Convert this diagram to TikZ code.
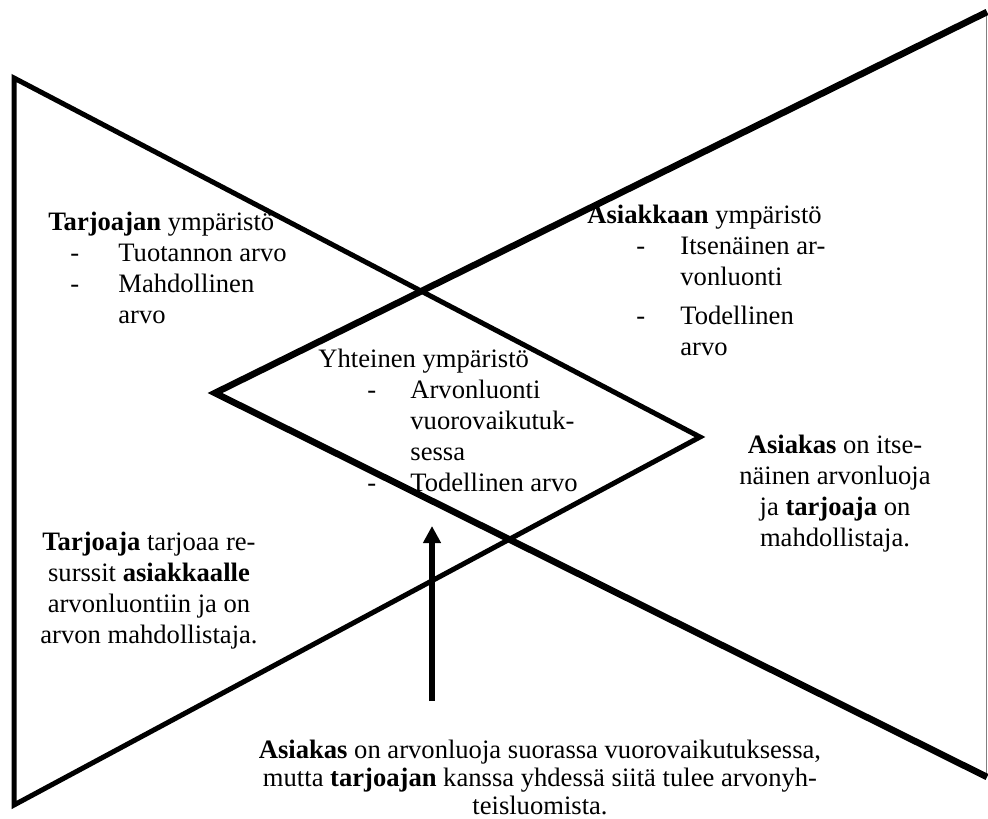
\documentclass[tikz,border=0pt]{standalone}
\usepackage{fontspec}
\setmainfont{Liberation Serif}
\usetikzlibrary{arrows.meta}

\tikzset{
  kolmio/.style={line width=2.5pt,line join=miter},
  paksu/.style={line width=3.3pt,line join=miter},
  teksti/.style={inner sep=0pt,font=\fontsize{13.3}{15.5}\selectfont},
  nuoli/.style={line width=2.7pt,-{Triangle[length=8.5pt,width=8.5pt]}}
}
\newcommand{\kohta}[3]{\hspace*{#1}\makebox[#2][l]{-}#3}

\begin{document}
\begin{tikzpicture}[x=0.5pt,y=-0.5pt]
    \useasboundingbox (0,0) rectangle (988,818);
    % tarjoajan kolmio
    \draw[kolmio] (14,78) -- (700,437) -- (14,805) -- cycle;
    % asiakkaan kolmio
    \draw[gray,line width=0.5pt] (986,12) -- (986,777);
    \draw[paksu] (987,12) -- (215,393) -- (987,777);
    \node[teksti,anchor=north west,align=left] (tarjoajanymp) at (48,212)
      {\textbf{Tarjoajan} ympäristö\\
       \kohta{11pt}{24pt}{Tuotannon arvo}\\
       \kohta{11pt}{24pt}{Mahdollinen}\\
       \hspace*{35pt}arvo};
    \node[teksti,anchor=north west,align=left] (asiakkaanymp) at (587,205)
      {\textbf{Asiakkaan} ympäristö\\
       \kohta{24.5pt}{22pt}{Itsenäinen ar-}\\
       \hspace*{46.5pt}vonluonti\\[4pt]
       \kohta{24.5pt}{22pt}{Todellinen}\\
       \hspace*{46.5pt}arvo};
    \node[teksti,anchor=north west,align=left] (yhteinenymp) at (318,349)
      {Yhteinen ympäristö\\
       \kohta{24.5pt}{21.5pt}{Arvonluonti}\\
       \hspace*{46pt}vuorovaikutuk-\\
       \hspace*{46pt}sessa\\
       \kohta{24.5pt}{21.5pt}{Todellinen arvo}};
    \node[teksti,anchor=north,align=center] (asiakasteksti) at (835,435)
      {\textbf{Asiakas} on itse-\\
       näinen arvonluoja\\
       ja \textbf{tarjoaja} on\\
       mahdollistaja.};
    \node[teksti,anchor=north,align=center] (tarjoajateksti) at (149,532)
      {\textbf{Tarjoaja} tarjoaa re-\\
       surssit \textbf{asiakkaalle}\\
       arvonluontiin ja on\\
       arvon mahdollistaja.};
    \node[teksti,anchor=north,align=center,font=\fontsize{13.3}{14}\selectfont] (alateksti) at (540,740)
      {\textbf{Asiakas} on arvonluoja suorassa vuorovaikutuksessa,\\
       mutta \textbf{tarjoajan} kanssa yhdessä siitä tulee arvonyh-\\
       teisluomista.};
    \coordinate (nuolenalku) at (432,701);
    \coordinate (nuolenkarki) at (432,526);
    \draw[nuoli] (nuolenalku) -- (nuolenkarki);
\end{tikzpicture}
\end{document}
